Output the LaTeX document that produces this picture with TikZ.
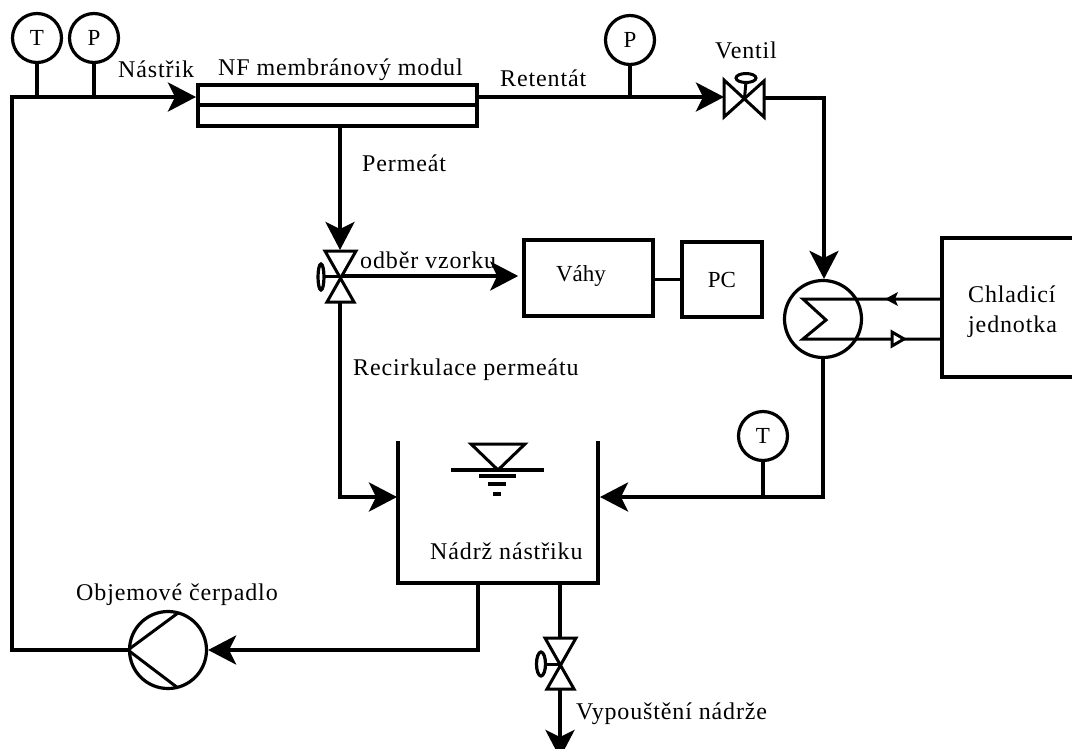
\documentclass[tikz,border=0pt]{standalone}
\usepackage{fontspec}
\setmainfont{Liberation Serif}
\newfontfamily\spaced[LetterSpace=3.6]{Liberation Serif}
\usetikzlibrary{arrows.meta,calc}
\tikzset{
  pipe/.style={line width=3.6pt,line join=miter},
  flow/.style={pipe,-{Stealth[length=28pt,width=29pt,inset=7pt]}},
  gauge/.style={circle,draw,line width=3.2pt,minimum size=49pt,inner sep=0pt,font=\fontsize{23}{26}\selectfont},
  box/.style={rectangle,draw,line width=3.6pt,inner sep=0pt,font=\fontsize{23}{26}\selectfont},
  disc/.style={circle,draw,line width=3.2pt,minimum size=77pt,inner sep=0pt},
  lab/.style={inner sep=0pt,font=\spaced\fontsize{24}{30}\selectfont,anchor=base west},
  valve/.style={line width=3pt,line join=miter,fill=white},
  every node/.append style={text=black}
}
\begin{document}
\begin{tikzpicture}[x=1pt,y=-1pt]
\useasboundingbox (0,0) rectangle (1072,748);
% instruments and equipment
\node[gauge] (t1) at (37,38) {T};
\node[gauge] (p1) at (94,38) {P};
\node[gauge] (p2) at (630,40) {P};
\node[gauge] (t2) at (763,436) {T};
\node[box,minimum width=279pt,minimum height=41pt] (mod) at (337.5,105.5) {};
\draw[pipe] (mod.west |- 0,105) coordinate (modmidl) -- (mod.east |- 0,105) coordinate (modmidr);
\node[box,minimum width=129pt,minimum height=76pt] (vahy) at (588.5,278) {};
\node[box,minimum width=80pt,minimum height=75pt] (pc) at (722,279.5) {PC};
\node[inner sep=0pt,font=\fontsize{23}{26}\selectfont] (vahylab) at (581,276) {Váhy};
\node[disc] (hx) at (823,319) {};
\node[disc] (pump) at (168,650) {};
% named junctions
\coordinate (tl) at (12,97);
\coordinate (bl) at (12,650);
\coordinate (feedend) at (196,97);
\coordinate (v1l) at (724,97);
\coordinate (v1r) at (765,98);
\coordinate (v1c) at (744.5,98);
\coordinate (corner1) at (824,98);
\coordinate (v2t) at (340,250);
\coordinate (v2b) at (340,302);
\coordinate (v2c) at (340,276);
\coordinate (v3t) at (560,638);
\coordinate (v3b) at (560,690);
\coordinate (v3c) at (560,664);
\coordinate (drain) at (560,758);
\coordinate (tankTL) at (398,441);
\coordinate (tankBL) at (398,583);
\coordinate (tankBR) at (598,583);
\coordinate (tankTR) at (598,441);
\coordinate (chTL) at (942,238);
\coordinate (chBL) at (942,377);
\coordinate (chTR) at (1073,238);
\coordinate (chBR) at (1073,377);
% tank and cooling unit
\draw[pipe] (tankTL) -- (tankBL) -- (tankBR) -- (tankTR);
\draw[pipe] (chTR) -- (chTL) -- (chBL) -- (chBR);
% pipes
\draw[flow] (pump.west) -- (bl) -- (tl) -- (feedend);
\draw[pipe] (t1) -- (t1 |- tl);
\draw[pipe] (p1) -- (p1 |- tl);
\draw[flow] (mod.east |- tl) -- (v1l);
\draw[pipe] (p2) -- (p2 |- tl);
\draw[flow] (v1r) -- (corner1) -- (hx.north -| corner1);
\draw[flow] (hx.south) -- (hx.south |- 0,497) coordinate (c2) -- ($(c2 -| tankTR)+(2,0)$);
\draw[pipe] (t2) -- (t2 |- c2);
\draw[flow] (mod.south -| v2t) -- (v2t);
\draw[flow] (v2b) -- (v2b |- c2) -- ($(c2 -| tankTL)+(-1,0)$);
\draw[flow] (v2c) -- ($(v2c -| vahy.west)+(-4,0)$);
\draw[pipe] (vahy.east |- pc) -- (pc.west);
\draw[flow] (tankBL -| 478,0) -- (478,650) -- (pump.east);
\draw[pipe] (tankBR -| v3t) -- (v3t);
\draw[flow] (v3b) -- (drain);
% heat exchanger
\draw[line width=3pt,line join=miter] (chTL |- 0,299) -- (803,299) -- (826,320) -- (803,339) -- (chTL |- 0,339);
\fill (898,292) -- (885,299) -- (898,306) -- (895,299) -- cycle;
\draw[line width=3pt,fill=white] (892,332) -- (904,339) -- (892,346) -- cycle;
% pump blades
\draw[line width=3pt] ($(pump.center)+(178-168,613-650)$) -- (pump.west) -- ($(pump.center)+(178-168,688-650)$);
% valves
\draw[valve] (v1l |- 0,80) -- (764,117) -- (764,81) -- (724,117) -- cycle;
\draw[line width=3pt] (v1c) -- (746,82);
\draw[line width=3pt,fill=white] (746,78) ellipse (10pt and 4.5pt);
\draw[valve] (325,251) -- (356,251) -- (327,302) -- (354,302) -- cycle;
\draw[line width=3pt] (v2c) -- (322,276);
\draw[line width=3.2pt,fill=white] (321,277) ellipse (3pt and 13pt);
\draw[valve] (545,638) -- (576,638) -- (547,689) -- (574,689) -- cycle;
\draw[line width=3pt] (v3c) -- (541,664);
\draw[line width=3.2pt,fill=white] (541,664) ellipse (4.5pt and 12pt);
% level mark
\draw[line width=3pt,line join=miter] (471,444) -- (525,444) -- (498,470) -- cycle;
\draw[line width=3.5pt] (451,470) -- (544,470);
\draw[line width=3.5pt] (479,476) -- (516,476);
\draw[line width=3.5pt] (488,484) -- (506,484);
\draw[line width=3.5pt] (493,494) -- (501,494);
% labels
\node[lab] (l1) at (118,77) {Nástřik};
\node[lab] (l2) at (218,75) {NF membránový modul};
\node[lab] (l3) at (500,86) {Retentát};
\node[lab] (l4) at (715,58) {Ventil};
\node[lab] (l5) at (362,171) {Permeát};
\node[lab] (l6) at (360,268) {odběr vzorku};
\node[lab] (l7) at (353,375) {Recirkulace permeátu};
\node[lab] (l8) at (968,302) {Chladicí};
\node[lab] (l9) at (968,332) {jednotka};
\node[lab] (l10) at (430,559) {Nádrž nástřiku};
\node[lab] (l11) at (76,600) {Objemové čerpadlo};
\node[lab] (l12) at (576,719) {Vypouštění nádrže};
\end{tikzpicture}
\end{document}
